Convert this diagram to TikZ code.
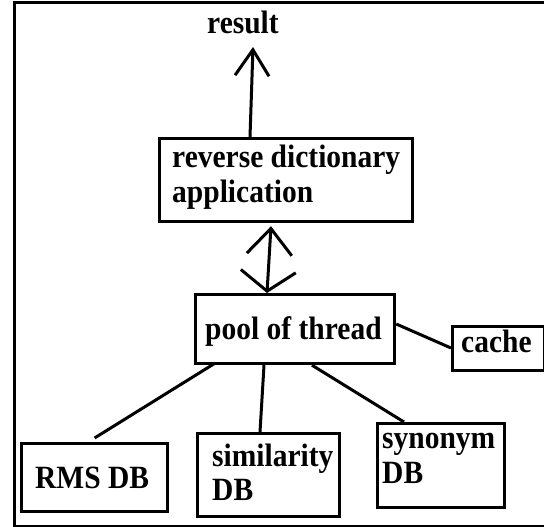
\documentclass[tikz,border=0pt]{standalone}
\usepackage{fontspec}
\setmainfont{Liberation Serif}
\usetikzlibrary{arrows.meta,calc}

\newcommand{\tall}[1]{\scalebox{1}[1.1]{#1}}

\tikzset{
  box/.style={draw=black, line width=3.2pt, rectangle, inner sep=0pt, anchor=north west},
  lbl/.style={font=\bfseries\fontsize{29.5}{35}\selectfont, inner sep=0pt, anchor=base west},
  link/.style={draw=black, line width=3pt},
  barb/.style={line width=3pt, arrows={-Straight Barb[length=26pt,width=34pt,line width=3pt]}},
}

\begin{document}
\begin{tikzpicture}[x=1pt, y=-1pt]
  \useasboundingbox (0,0) rectangle (544,527);

  % outer frame (right side runs past the page edge)
  \draw[line width=3pt] (548,3) -- (14,3) -- (14,526) -- (548,526);

  % boxes
  \node[box, minimum width=253pt, minimum height=83pt] (rda)   at (158,137) {};
  \node[box, minimum width=199pt, minimum height=69pt] (pool)  at (194,293) {};
  \node[box, minimum width=92pt,  minimum height=44pt] (cache) at (451,325) {};
  \node[box, minimum width=146pt, minimum height=68pt] (rms)   at (20,442)  {};
  \node[box, minimum width=142pt, minimum height=83pt] (sim)   at (196,432) {};
  \node[box, minimum width=127pt, minimum height=84pt] (syn)   at (376,422) {};

  % labels
  \node[lbl] (result) at (207,34)  {\tall{result}};
  \node[lbl] (rdaA)   at (172,167) {\tall{reverse dictionary}};
  \node[lbl] (rdaB)   at (172,202) {\tall{application}};
  \node[lbl] (poolT)  at (205,339) {\tall{pool of thread}};
  \node[lbl] (cacheT) at (461,352) {\tall{cache}};
  \node[lbl] (rmsT)   at (35,488)  {\tall{RMS DB}};
  \node[lbl] (simA)   at (212,466) {\tall{similarity}};
  \node[lbl] (simB)   at (212,500) {\tall{DB}};
  \node[lbl] (synA)   at (382,448) {\tall{synonym}};
  \node[lbl] (synB)   at (382,483) {\tall{DB}};

  % output arrow
  \coordinate (resTip) at ($(result.base west)+(46,13)$);
  \draw[barb] ($(rda.north west)+(92,0)$) -- (resTip);

  % two-way link between application and thread pool
  \draw[line width=3pt,
        arrows={Straight Barb[length=26pt,width=45pt,line width=3pt]-Straight Barb[length=20pt,width=55pt,line width=3pt]}]
    ($(rda.south west)+(113,3)$) -- ($(pool.north west)+(73,0)$);

  % thread pool links
  \draw[link] ($(pool.south west)+(21,-2)$) -- ($(rms.north)+(0,-4)$);
  \draw[link] ($(pool.south west)+(70,0)$) -- ($(sim.north west)+(64,0)$);
  \draw[link] ($(pool.south west)+(118,0)$) -- ($(syn.north west)+(28,0)$);
  \draw[link] ($(pool.north east)+(0,31)$) -- ($(cache.north west)+(0,23)$);
\end{tikzpicture}
\end{document}
